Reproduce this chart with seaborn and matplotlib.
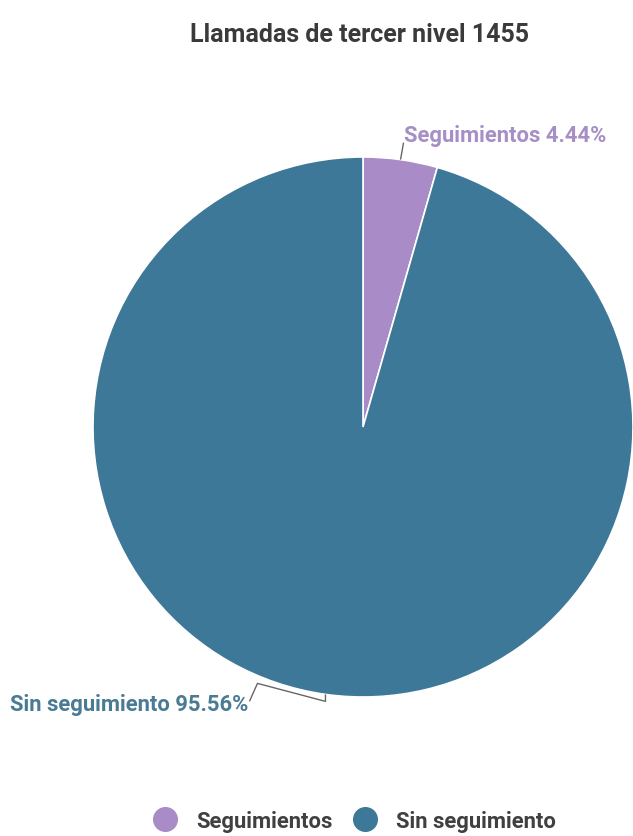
import numpy as np
import matplotlib
matplotlib.use("Agg")
import matplotlib.pyplot as plt
from matplotlib.lines import Line2D
import seaborn as sns

# Chart content
title = "Llamadas de tercer nivel 1455"
categories = ["Seguimientos", "Sin seguimiento"]
percentages = [4.44, 95.56]
slice_colors = ["#a98bc7", "#3e7898"]
label_colors = ["#a68ec6", "#4a7b94"]

sns.set_theme(style="white")
plt.rcParams["font.family"] = ["Roboto", "DejaVu Sans"]

W, H = 633, 837
fig = plt.figure(figsize=(W / 100, H / 100), dpi=100)
ax = fig.add_axes([0, 0, 1, 1])

cx, cy, r = 363, H - 428, 270
wedges, _ = ax.pie(
    percentages,
    colors=slice_colors,
    startangle=90,
    counterclock=False,
    center=(cx, cy),
    radius=r,
    wedgeprops=dict(edgecolor="white", linewidth=1.2),
    frame=True,
)
ax.set_xlim(0, W)
ax.set_ylim(0, H)
ax.set_aspect("equal")
ax.axis("off")

# mid-angle of each slice (degrees clockwise from 12 o'clock)
cum = np.cumsum([0] + percentages[:-1])
mids = [(c + p / 2) / 100 * 360 for c, p in zip(cum, percentages)]

def edge_point(deg):
    a = np.deg2rad(deg)
    return cx + r * np.sin(a), cy + r * np.cos(a)

line_kw = dict(color="#666666", lw=1.0, solid_capstyle="butt")
text_kw = dict(fontsize=15.8, fontweight="semibold")

# Seguimientos label (upper right)
x0, y0 = edge_point(mids[0])
ax.plot([x0, x0 + 3], [y0, y0 + 17], **line_kw)
ax.text(x0 + 3, y0 + 25, f"{categories[0]} {percentages[0]:.2f}%",
        ha="left", va="center", color=label_colors[0], **text_kw)

# Sin seguimiento label (lower left)
x1, y1 = edge_point(mids[1])
px = [x1, x1, x1 - 68, x1 - 76]
py = [y1, y1 - 7, y1 + 11, y1 - 7]
ax.plot(px, py, **line_kw)
ax.text(x1 - 77, y1 - 10, f"{categories[1]} {percentages[1]:.2f}%",
        ha="right", va="center", color=label_colors[1], **text_kw)

fig.text(cx / W - 0.005, 1 - 35 / H, title, ha="center", va="center",
         fontsize=18, fontweight="semibold", color="#3a3a3a")

handles = [
    Line2D([0], [0], marker="o", linestyle="", markersize=17,
           markerfacecolor=c, markeredgecolor=c)
    for c in slice_colors
]
fig.legend(handles, categories, loc="center", ncol=2,
           bbox_to_anchor=(355 / W, 1 - 822 / H), frameon=False,
           prop=dict(family=["Roboto", "DejaVu Sans"], size=15.8, weight="semibold"),
           labelcolor="#404040", handlelength=1.0, handletextpad=0.9,
           columnspacing=1.0, borderpad=0, borderaxespad=0)

fig.savefig("out.png", dpi=100, facecolor="white")
